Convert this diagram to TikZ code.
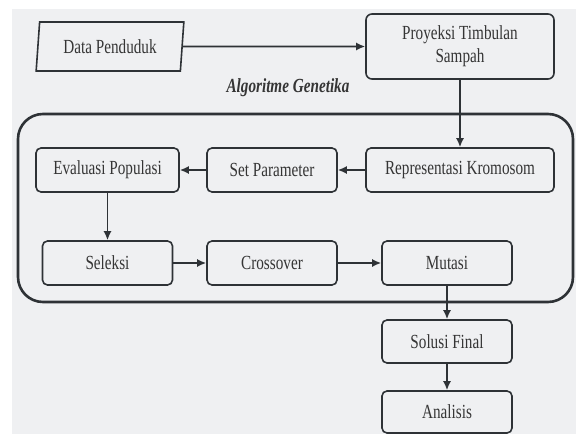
\documentclass[tikz,border=0pt]{standalone}
\usepackage{fontspec}
\setmainfont{Liberation Serif}[FakeStretch=0.76]
\usepackage{xcolor}
\usetikzlibrary{calc, arrows.meta, shapes.geometric}
\definecolor{garis}{HTML}{2E3236}
\definecolor{latar}{HTML}{EFF0F2}
\definecolor{teks}{HTML}{353535}
\tikzset{
  flownode/.style = {align=center, inner sep=0pt, text centered,
    font=\fontsize{20}{23}\selectfont, text=teks},
  fl_box/.style = {flownode, rectangle, rounded corners=5pt, draw=garis,
    line width=1.6pt, minimum width=130pt, minimum height=44pt},% kotak proses
  fl_data/.style = {flownode, trapezium, trapezium left angle=80.7,
    trapezium right angle=99.3, trapezium stretches=true, draw=garis,
    line width=1.6pt, minimum width=148pt, minimum height=49pt},% data masukan
  fl_grp/.style = {rectangle, rounded corners=25pt, draw=garis,
    line width=2.6pt},% kelompok algoritme
  fl_arr/.style = {-{Latex[length=9pt,width=8pt]}, line width=1.6pt, draw=garis}
}
\begin{document}
\begin{tikzpicture}[x=1pt, y=-1pt]
\useasboundingbox (0,0) rectangle (576,434);
\fill[latar] (12,9) rectangle (576,434);

\node[fl_grp, minimum width=555pt, minimum height=188pt] (b0) at (295.5,208) {};
\node[flownode, font=\fontsize{20}{23}\selectfont\bfseries\itshape] (lbl) at (288,88) {Algoritme Genetika};

\node[fl_data] (b1) at (110,46.5) {Data Penduduk};
\node[fl_box, rounded corners=6pt, minimum width=188pt, minimum height=65pt] (b2) at (460,46.5) {Proyeksi Timbulan\\Sampah};
\node[fl_box, minimum width=188pt] (b3) at (460,170) {Representasi Kromosom};
\node[fl_box] (b4) at (272,170) {Set Parameter};
\node[fl_box, minimum width=143pt] (b5) at (107.5,170) {Evaluasi Populasi};
\node[fl_box] (b6) at (107.5,263) {Seleksi};
\node[fl_box] (b7) at (272,263) {Crossover};
\node[fl_box] (b8) at (447,263) {Mutasi};
\node[fl_box, minimum height=43pt] (b9) at (447,341.5) {Solusi Final};
\node[fl_box, minimum height=42pt] (b10) at (447,412) {Analisis};

\draw[fl_arr] (b1) -- (b2);
\draw[fl_arr] (b2) -- (b3);
\draw[fl_arr] (b3) -- (b4);
\draw[fl_arr] (b4) -- (b5);
\draw[fl_arr] (b5) -- (b6);
\draw[fl_arr] (b6) -- (b7);
\draw[fl_arr] (b7) -- (b8);
\draw[fl_arr] (b8) -- (b9);
\draw[fl_arr] (b9) -- (b10);
\end{tikzpicture}
\end{document}
